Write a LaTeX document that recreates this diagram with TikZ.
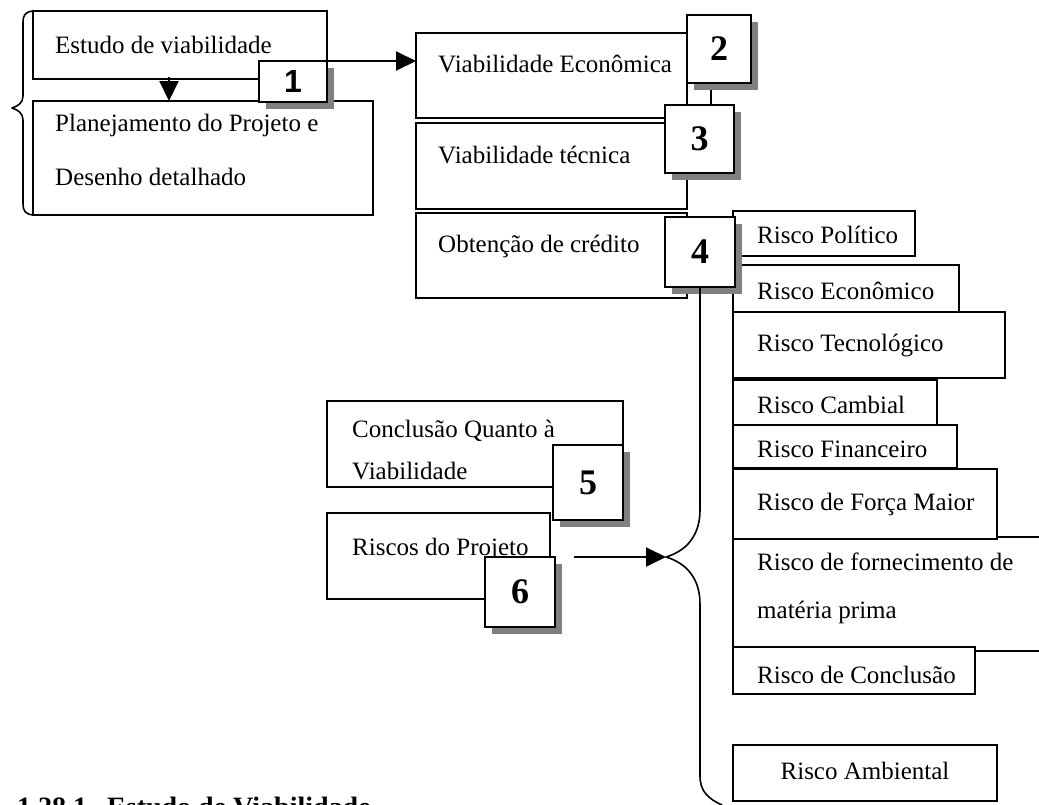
\documentclass[tikz,border=0pt]{standalone}
\usepackage{fontspec}
\setmainfont{Liberation Serif}
\newfontfamily\digitsans{Liberation Sans}
\usetikzlibrary{arrows.meta,shadows,calc}
\definecolor{shadowgray}{RGB}{128,128,128}
\tikzset{
  box/.style={draw, line width=2pt, fill=white, inner sep=0pt, outer sep=0pt, anchor=north west},
  numbox/.style={box, font=\fontsize{36}{36}\selectfont\bfseries,
    general shadow={fill=shadowgray, draw=none, shadow xshift=7pt, shadow yshift=-7pt}},
  txt/.style={inner sep=0pt, anchor=base west, font=\fontsize{25}{30}\selectfont},
  conn/.style={line width=2pt},
  arr/.style={line width=2pt, -{Triangle[length=20pt,width=19pt]}},
  brace/.style={line width=1.6pt, line join=round},
}
% \rbox[style]{name}{left}{top}{right}{bottom}{content}
\newcommand\rbox[7][box]{%
  \node[#1, minimum width={(#5-#3)*1pt}, minimum height={(#6-#4)*1pt}] (#2) at (#3,#4) {#7};}

\begin{document}
\begin{tikzpicture}[x=1pt,y=-1pt]
\useasboundingbox (0,0) rectangle (1039,804);
\clip (0,0) rectangle (1039,804);

% ---- first stage ----
\rbox{estudo}{33}{11}{327}{79}{}
\rbox{plan}{33}{101}{373}{215}{}
\node[txt] (tEstudo) at (55,53) {Estudo de viabilidade};
\node[txt] (tPlanA) at (55,131) {Planejamento do Projeto e};
\node[txt] (tPlanB) at (55,185) {Desenho detalhado};
\draw[brace] (estudo.north west) .. controls (25,12) and (23,15) .. (23,23) -- (23,96)
  .. controls (23,103) and (18,106) .. (12,108)
  .. controls (18,110) and (23,113) .. (23,120) -- (23,203)
  .. controls (23,211) and (25,214) .. (plan.south west);
\coordinate (dn) at ($(estudo.south west)+(136,-2)$);
\draw[arr] (dn) -- (dn |- plan.north);
\rbox[numbox]{n1}{259}{61}{327}{102}{\digitsans\bfseries\fontsize{32}{32}\selectfont 1}

% ---- feasibility branches ----
\rbox{econ}{416}{33}{687}{118}{}
\rbox{tecnica}{416}{123}{687}{209}{}
\rbox{credito}{416}{213}{687}{298}{}
\node[txt] (tEcon) at (438,72) {Viabilidade Econômica};
\node[txt] (tTec) at (438,163) {Viabilidade técnica};
\node[txt] (tCred) at (438,252) {Obtenção de crédito};
\draw[arr] (n1.north east) -- (n1.north east -| econ.west);

\coordinate (c23) at (711,0);
\draw[conn] (687,83 -| c23) -- (711,105);
\rbox[numbox]{n2}{687}{15}{751}{83}{2}
\rbox[numbox]{n3}{665}{105}{734}{173}{3}

% ---- risk list ----
\rbox{politico}{733}{211}{915}{256}{}
\rbox{economico}{733}{265}{959}{312}{}
\rbox{tecno}{733}{312}{1005}{378}{}
\rbox{cambial}{733}{380}{937}{427}{}
\rbox{financeiro}{733}{425}{957}{468}{}
\rbox{fornec}{733}{537}{1080}{651}{}
\rbox{forca}{733}{469}{997}{539}{}
\rbox{conclusao}{733}{647}{975}{694}{}
\rbox{ambiental}{733}{745}{997}{801}{}
\node[txt] (tPol) at (757,243) {Risco Político};
\node[txt] (tEcoR) at (757,299) {Risco Econômico};
\node[txt] (tTecR) at (757,351) {Risco Tecnológico};
\node[txt] (tCam) at (757,413) {Risco Cambial};
\node[txt] (tFin) at (757,457) {Risco Financeiro};
\node[txt] (tFor) at (757,510) {Risco de Força Maior};
\node[txt] (tFornA) at (757,570) {Risco de fornecimento de};
\node[txt] (tFornB) at (757,618) {matéria prima};
\node[txt] (tConc) at (757,683) {Risco de Conclusão};
\node[txt, anchor=base] (tAmb) at (865,779) {Risco Ambiental};

\rbox[numbox]{n4}{665}{217}{735}{287}{4}

% ---- conclusion and risks ----
\rbox{conclq}{327}{401}{623}{487}{}
\rbox{riscos}{327}{513}{550}{599}{}
\node[txt] (tConclA) at (352,437) {Conclusão Quanto à};
\node[txt] (tConclB) at (352,479) {Viabilidade};
\node[txt] (tRiscos) at (352,555) {Riscos do Projeto};
\rbox[numbox]{n5}{553}{445}{623}{520}{5}
\rbox[numbox]{n6}{485}{557}{555}{627}{6}

% ---- brace gathering the risks ----
\coordinate (btip) at (666,557);
\coordinate (bend) at (722,805);
\draw[brace] (n4.south) -- (700,510)
  .. controls (700,536) and (686,551) .. (btip)
  .. controls (686,563) and (700,578) .. (700,604) -- (700,776)
  .. controls (700,792) and (709,799) .. (bend);
\coordinate (rstart) at ($(n6.north east)+(19,0)$);
\draw[arr] (rstart) -- (btip);

% ---- next section heading ----
\node[inner sep=0pt, anchor=base west, font=\fontsize{28}{28}\selectfont\bfseries]
  (heading) at (17,816) {1.28.1.\hspace{13pt}Estudo de Viabilidade};
\end{tikzpicture}
\end{document}
